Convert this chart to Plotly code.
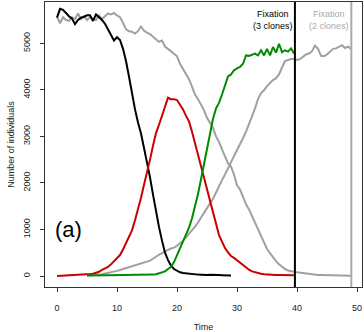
import numpy as np
import plotly.graph_objects as go

# ---- data ----
t_black = np.arange(0, 29.01, 0.5)
black = [5550, 5740, 5720, 5640, 5580, 5530, 5410, 5500, 5550, 5570,
         5600, 5600, 5480, 5620, 5570, 5500, 5420, 5300, 5180, 5060,
         5130, 5070, 4880, 4620, 4280, 3900, 3580, 3300, 3060, 2750,
         2450, 2120, 1750, 1380, 1050, 760, 500, 340, 220, 150,
         110, 80, 65, 55, 45, 40, 35, 30, 28, 20,
         22, 25, 28, 25, 20, 18, 15, 12, 10]

t_red = np.arange(0, 39.51, 0.5)
red = [0, 3, 5, 7, 10, 12, 18, 22, 26, 30,
       35, 42, 50, 62, 90, 130, 165, 195, 250, 320,
       380, 450, 570, 700, 840, 980, 1200, 1420, 1680, 1960,
       2200, 2500, 2800, 3070, 3250, 3450, 3650, 3830, 3800, 3800,
       3780, 3690, 3580, 3440, 3320, 3100, 2850, 2590, 2340, 2110,
       1870, 1600, 1330, 1080, 880, 740, 600, 510, 430, 390,
       340, 280, 225, 175, 135, 100, 80, 65, 50, 40,
       32, 28, 25, 22, 20, 18, 17, 16, 15, 15]

t_green = np.arange(5, 39.51, 0.5)
green = [10, 8, 8, 10, 12, 12, 14, 15, 16, 16,
         18, 18, 18, 17, 16, 16, 15, 16, 18, 20,
         22, 26, 30, 40, 55, 75, 100, 150, 200, 300,
         450, 580, 720, 880, 1040, 1240, 1490, 1760, 2080, 2420,
         2720, 3050, 3380, 3600, 3720, 3900, 4120, 4290, 4330, 4420,
         4460, 4490, 4560, 4740, 4730, 4760, 4780, 4740, 4850, 4740,
         4880, 4740, 4920, 4800, 4990, 4810, 4850, 4820, 4890, 4780]

t_greyA = np.arange(0, 49.01, 0.5)
greyA = [5580, 5430, 5560, 5500, 5480, 5560, 5520, 5640, 5520, 5580,
         5500, 5560, 5520, 5500, 5600, 5520, 5580, 5640, 5620, 5650,
         5600, 5560, 5440, 5300, 5260, 5250, 5210, 5260, 5360, 5270,
         5230, 5200, 5140, 5080, 5030, 5060, 4930, 4880, 4820, 4780,
         4720, 4560, 4450, 4330, 4230, 4070, 3900, 3800, 3680, 3560,
         3400, 3280, 3180, 3000, 2880, 2720, 2560, 2420, 2350, 2180,
         1950, 1860, 1700, 1540, 1430, 1290, 1120, 980, 850, 700,
         580, 490, 400, 320, 250, 190, 150, 120, 100, 90,
         80, 70, 60, 55, 45, 35, 28, 22, 20, 20,
         18, 18, 17, 16, 15, 14, 12, 10, 8]

t_greyB = np.arange(5, 49.01, 0.5)
greyB = [10, 15, 18, 22, 30, 40, 55, 65, 80, 90,
         110, 130, 150, 165, 180, 200, 220, 240, 260, 280,
         300, 330, 370, 420, 460, 490, 530, 560, 590, 610,
         650, 700, 760, 830, 900, 980, 1060, 1150, 1260, 1360,
         1450, 1560, 1660, 1800, 1930, 2060, 2180, 2300, 2440, 2580,
         2700, 2850, 2960, 3100, 3250, 3430, 3600, 3800, 3930, 3990,
         4080, 4150, 4210, 4250, 4330, 4480, 4620, 4640, 4660, 4660,
         4640, 4660, 4710, 4760, 4780, 4830, 4950, 4880, 4730, 4720,
         4760, 4820, 4880, 4890, 4920, 4960, 4900, 4930, 4880]

fix3_time = 39.65
fix2_time = 49.05
x_ticks = [0, 10, 20, 30, 40, 50]
y_ticks = [0, 1000, 2000, 3000, 4000, 5000]

GREY = "#A0A0A0"
FONT = "Liberation Sans, Arial"
fig = go.Figure()
for t, v, c in [(t_greyA, greyA, GREY), (t_greyB, greyB, GREY),
                (t_black, black, "black"), (t_red, red, "#CD0000"),
                (t_green, green, "#008B00")]:
    fig.add_trace(go.Scatter(x=t, y=v, mode="lines",
                             line=dict(color=c, width=2), showlegend=False,
                             hoverinfo="skip"))

fig.add_shape(type="line", x0=fix3_time, x1=fix3_time, y0=0, y1=1,
              xref="x", yref="paper", line=dict(color="black", width=2))
fig.add_shape(type="line", x0=fix2_time, x1=fix2_time, y0=0, y1=1,
              xref="x", yref="paper", line=dict(color="#AAAAAA", width=2))

fig.add_annotation(x=36.0, y=5490, text="Fixation<br>(3 clones)", showarrow=False,
                   font=dict(family=FONT, size=9, color="black"),
                   xanchor="center", yanchor="middle")
fig.add_annotation(x=45.4, y=5490, text="Fixation<br>(2 clones)", showarrow=False,
                   font=dict(family=FONT, size=9, color="#AAAAAA"),
                   xanchor="center", yanchor="middle")
fig.add_annotation(x=1.9, y=1000, text="(a)", showarrow=False,
                   font=dict(family=FONT, size=22, color="black"),
                   xanchor="center", yanchor="middle")

axis_common = dict(showgrid=False, zeroline=False, showline=True, mirror=True,
                   linecolor="#333333", linewidth=1, ticks="outside", ticklen=4,
                   tickcolor="#333333", automargin=False,
                   tickfont=dict(family=FONT, size=9, color="#222222"))

fig.update_layout(
    width=364, height=332,
    margin=dict(l=45, r=2, t=2, b=45, autoexpand=False),
    paper_bgcolor="white", plot_bgcolor="white",
    xaxis=dict(range=[-2, 50.83], tickvals=x_ticks, ticklabelstandoff=8,
               title=dict(text="Time", standoff=14,
                          font=dict(family=FONT, size=9, color="#222222")),
               **axis_common),
    yaxis=dict(range=[-236, 5887], tickvals=y_ticks, tickangle=-90,
               ticklabelstandoff=6,
               title=dict(text="Number of individuals", standoff=6,
                          font=dict(family=FONT, size=9, color="#222222")),
               **axis_common),
)

fig.write_html("out.html", config={"displayModeBar": False},
               post_script="document.body.style.margin='0';document.body.style.padding='0';")
